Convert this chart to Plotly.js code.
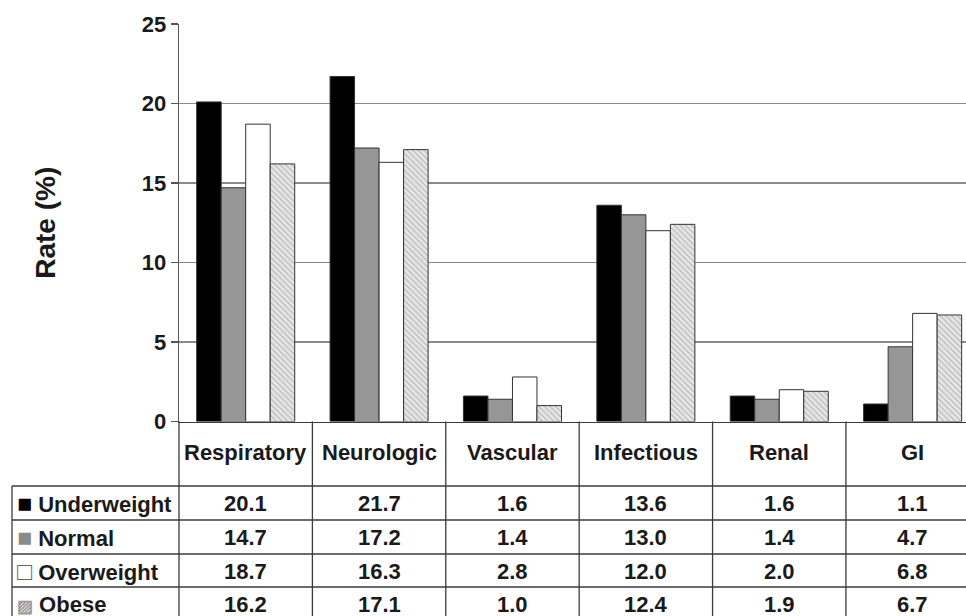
<!DOCTYPE html>
<html>
<head>
<meta charset="utf-8">
<script src="https://cdn.plot.ly/plotly-3.0.1.min.js"></script>
<style>html,body{margin:0;padding:0;background:#fff;}#chart{width:966px;height:616px;}</style>
</head>
<body>
<div id="chart"></div>
<script>
// ---- data ----
const categories = ['Respiratory', 'Neurologic', 'Vascular', 'Infectious', 'Renal', 'GI'];
const seriesNames = ['Underweight', 'Normal', 'Overweight', 'Obese'];
const underweight = [20.1, 21.7, 1.6, 13.6, 1.6, 1.1];
const normal = [14.7, 17.2, 1.4, 13.0, 1.4, 4.7];
const overweight = [18.7, 16.3, 2.8, 12.0, 2.0, 6.8];
const obese = [16.2, 17.1, 1.0, 12.4, 1.9, 6.7];
const yTicks = [0, 5, 10, 15, 20, 25];
const yTitle = 'Rate (%)';

// ---- styling ----
const W = 966, H = 616;
const M = {l: 179, r: 0, t: 24, b: 0};
const FONT = 'Liberation Sans, Arial, sans-serif';
const LINE = '#3a3a3a';
const TXT = 22;
const pyPaper = px => (H - M.b - px) / (H - M.t - M.b);
const pxPaperX = px => (px - M.l) / (W - M.l - M.r);

const seriesValues = [underweight, normal, overweight, obese];
const seriesStyles = [
  {color: '#000000'},
  {color: '#969696'},
  {color: '#ffffff'},
  {color: '#e6e6e6', pattern: {shape: '\\', fgcolor: '#b0b0b0', bgcolor: '#e6e6e6', size: 4, solidity: 0.25, fillmode: 'replace'}}
];
const swatches = [
  '<span style="color:#000000;font-size:25px">■</span>',
  '<span style="color:#8a8a8a;font-size:25px">■</span>',
  '<span style="color:#666666;font-size:25px">□</span>',
  '<span style="color:#999999;font-size:17px">▨</span>'
];

const traces = seriesNames.map((name, i) => ({
  type: 'bar',
  name: name,
  x: categories,
  y: seriesValues[i],
  marker: Object.assign({line: {color: '#333333', width: 1}}, seriesStyles[i]),
  hoverinfo: 'skip'
}));

// table geometry (pixel rows)
const baselinePx = 421.5;
const headerCenterPx = 452;
const rowLinesPx = [486, 520, 554, 587, 621];
const rowCentersPx = [503, 537, 571, 604];
const tableLeftPx = 12;
const legendTextLeftPx = 15;

const annotations = [];
const shapes = [];

// header labels
categories.forEach(c => {
  annotations.push({
    xref: 'x', yref: 'paper', x: c, y: pyPaper(headerCenterPx),
    text: c, showarrow: false, xanchor: 'center', yanchor: 'middle',
    font: {family: FONT, size: TXT, weight: 'bold', color: '#1a1a1a'}
  });
});

// value cells + legend labels
seriesNames.forEach((name, r) => {
  annotations.push({
    xref: 'paper', yref: 'paper', x: pxPaperX(legendTextLeftPx), y: pyPaper(rowCentersPx[r]),
    text: swatches[r] + ' ' + name,
    showarrow: false, xanchor: 'left', yanchor: 'middle',
    font: {family: FONT, size: TXT, weight: 'bold', color: '#1a1a1a'}
  });
  categories.forEach((c, k) => {
    annotations.push({
      xref: 'x', yref: 'paper', x: c, y: pyPaper(rowCentersPx[r]),
      text: seriesValues[r][k].toFixed(1), showarrow: false,
      xanchor: 'center', yanchor: 'middle',
      font: {family: FONT, size: TXT, weight: 'bold', color: '#1a1a1a'}
    });
  });
});

// table lines
rowLinesPx.forEach(py => {
  shapes.push({
    type: 'line', xref: 'paper', yref: 'paper',
    x0: pxPaperX(tableLeftPx), x1: 1, y0: pyPaper(py), y1: pyPaper(py),
    line: {color: LINE, width: 1.3}
  });
});
// left border of legend column
shapes.push({
  type: 'line', xref: 'paper', yref: 'paper',
  x0: pxPaperX(tableLeftPx), x1: pxPaperX(tableLeftPx), y0: pyPaper(rowLinesPx[0]), y1: pyPaper(H + 10),
  line: {color: LINE, width: 1.3}
});
// y-axis continuation down through the table
shapes.push({
  type: 'line', xref: 'paper', yref: 'paper',
  x0: 0, x1: 0, y0: pyPaper(baselinePx), y1: pyPaper(H + 10),
  line: {color: LINE, width: 1.3}
});
// category column separators
for (let k = 1; k < categories.length; k++) {
  shapes.push({
    type: 'line', xref: 'x', yref: 'paper',
    x0: k - 0.5, x1: k - 0.5, y0: pyPaper(baselinePx), y1: pyPaper(H + 10),
    line: {color: LINE, width: 1.3}
  });
}

const layout = {
  width: W, height: H,
  margin: M,
  paper_bgcolor: '#ffffff', plot_bgcolor: '#ffffff',
  showlegend: false,
  barmode: 'group',
  bargap: 0.265,
  bargroupgap: 0,
  font: {family: FONT, color: '#1a1a1a'},
  xaxis: {
    type: 'category',
    range: [-0.5, 5.4],
    showticklabels: false,
    showgrid: false,
    showline: true, linecolor: LINE, linewidth: 1.3,
    ticks: '', zeroline: false, fixedrange: true
  },
  yaxis: {
    domain: [pyPaper(baselinePx), 1],
    range: [0, 25],
    tickvals: yTicks,
    ticktext: yTicks.map(String),
    ticks: 'outside', ticklen: 7, tickcolor: '#555555', tickwidth: 1.2,
    showline: true, linecolor: '#555555', linewidth: 1.3,
    showgrid: true, gridcolor: '#8a8a8a', gridwidth: 1.3,
    zeroline: false,
    tickfont: {family: FONT, size: 22, weight: 'bold', color: '#1a1a1a'},
    title: {text: yTitle, font: {family: FONT, size: 28, weight: 'bold', color: '#1a1a1a'}, standoff: 78},
    automargin: false,
    fixedrange: true
  },
  annotations: annotations,
  shapes: shapes
};

Plotly.newPlot('chart', traces, layout, {displayModeBar: false, staticPlot: true});
</script>
</body>
</html>
